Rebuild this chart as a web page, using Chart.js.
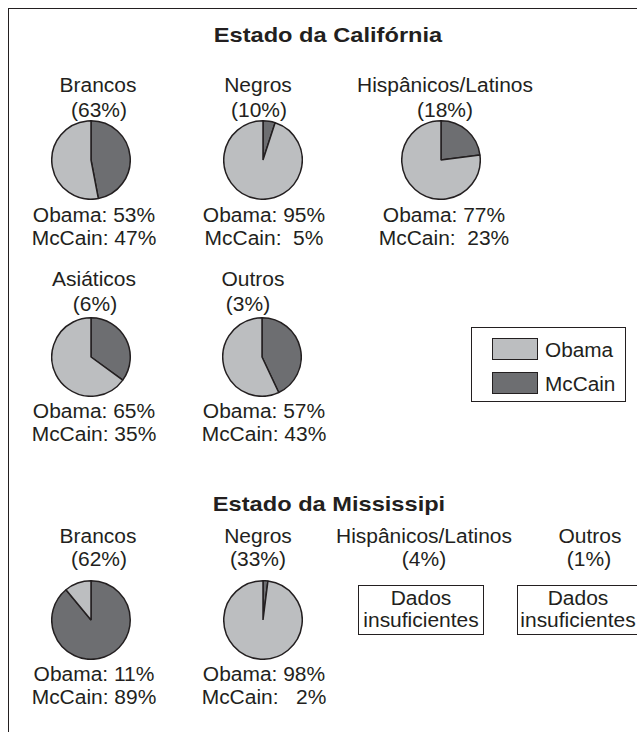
<!DOCTYPE html>
<html><head><meta charset="utf-8">
<script src="https://cdn.jsdelivr.net/npm/chart.js@4"></script>
<style>
html,body{margin:0;padding:0;background:#fff;}
#wrap{position:relative;width:637px;height:732px;overflow:hidden;background:#fff;}
.t{position:absolute;white-space:pre;font-family:"Liberation Sans",Arial,sans-serif;color:#231f20;}
.box{position:absolute;border:1.5px solid #231f20;box-sizing:border-box;}
.ln{position:absolute;background:#231f20;}
canvas.pie{position:absolute;}
</style></head><body><div id="wrap"></div>
<script>
// ---- data ----
const seriesLabels = ['Obama', 'McCain'];
const titles = ['Estado da Califórnia', 'Estado da Mississipi'];
const caGroups = ['Brancos', 'Negros', 'Hispânicos/Latinos', 'Asiáticos', 'Outros'];
const caShares = [63, 10, 18, 6, 3];
const caObama = [53, 95, 77, 65, 57];
const caMcCain = [47, 5, 23, 35, 43];
const msGroups = ['Brancos', 'Negros', 'Hispânicos/Latinos', 'Outros'];
const msShares = [62, 33, 4, 1];
const msObama = [11, 98, null, null];
const msMcCain = [89, 2, null, null];
const noDataText = ['Dados', 'insuficientes'];

// ---- styles / layout ----
const colObama = '#bcbec0', colMcCain = '#6d6e71', edge = '#231f20';
const caPad = [1, 2, 2, 1, 1];
const msPad = [1, 3];
const caLayout = [
  {px:91, py:160, lx:98, sx:99, vx:94, ly:93, sy:117.5, oy:223, my:246},
  {px:262.5, py:160, lx:258, sx:258.5, vx:264, ly:93, sy:117.5, oy:223, my:246},
  {px:440.5, py:160, lx:445, sx:445, vx:444, ly:93, sy:117.5, oy:223, my:246},
  {px:91, py:357, lx:94, sx:94.5, vx:94, ly:287, sy:311.5, oy:419, my:442},
  {px:262, py:357, lx:252.5, sx:248, vx:264, ly:287, sy:311.5, oy:419, my:442}
];
const msLayout = [
  {px:91, py:620, lx:98, sx:99, vx:94, ly:544, sy:567, oy:682, my:705},
  {px:262.5, py:620, lx:258, sx:258, vx:264, ly:544, sy:567, oy:682, my:705},
  {lx:424, sx:423.5, ly:543.5, sy:567, bx:358, bw:126, tx:421},
  {lx:589.5, sx:589, ly:543.5, sy:567, bx:517, bw:126, tx:578}
];

const wrap = document.getElementById('wrap');

function line(x, y, w, h) {
  const d = document.createElement('div'); d.className = 'ln';
  Object.assign(d.style, {left:x+'px', top:y+'px', width:w+'px', height:h+'px'});
  wrap.appendChild(d);
}
function txt(s, x, base, o = {}) {
  const size = o.size || 19.5, sx = o.sx || 1.075;
  const d = document.createElement('div'); d.className = 't'; d.textContent = s;
  d.style.fontSize = size + 'px'; d.style.lineHeight = size + 'px';
  d.style.fontWeight = o.bold ? 'bold' : 'normal';
  d.style.left = x + 'px'; d.style.top = (base - 0.8465 * size) + 'px';
  if (o.left) { d.style.transformOrigin = '0 50%'; d.style.transform = `scaleX(${sx})`; }
  else { d.style.transformOrigin = '50% 50%'; d.style.transform = `translateX(-50%) scaleX(${sx})`; }
  wrap.appendChild(d);
}
function box(x, y, w, h, bg) {
  const d = document.createElement('div'); d.className = 'box';
  Object.assign(d.style, {left:x+'px', top:y+'px', width:w+'px', height:h+'px'});
  if (bg) d.style.background = bg;
  wrap.appendChild(d);
}
function pie(cx, cy, mc, ob) {
  const c = document.createElement('canvas'); c.className = 'pie';
  c.width = 80; c.height = 80;
  Object.assign(c.style, {left:(cx-40)+'px', top:(cy-40)+'px', width:'80px', height:'80px'});
  wrap.appendChild(c);
  new Chart(c, {
    type: 'pie',
    data: { labels: [seriesLabels[1], seriesLabels[0]],
      datasets: [{ data: [mc, ob], backgroundColor: [colMcCain, colObama], borderColor: edge, borderWidth: 1.5 }] },
    options: { responsive: false, animation: false, events: [], layout: {padding: 0},
      plugins: { legend: {display: false}, tooltip: {enabled: false} } }
  });
}

// frame
line(8, 7.5, 640, 1.5);
line(7.5, 8, 1.5, 730);

// titles
txt(titles[0], 328, 42, {size:21, bold:true, sx:1.125});
txt(titles[1], 329, 511, {size:21, bold:true, sx:1.125});

// California
caGroups.forEach((g, i) => {
  const L = caLayout[i];
  txt(g, L.lx, L.ly);
  txt(`(${caShares[i]}%)`, L.sx, L.sy);
  pie(L.px, L.py, caMcCain[i], caObama[i]);
  txt(`${seriesLabels[0]}: ${caObama[i]}%`, L.vx, L.oy);
  txt(`${seriesLabels[1]}:${' '.repeat(caPad[i])}${caMcCain[i]}%`, L.vx, L.my);
});

// legend
box(471, 327, 155, 75);
box(492, 338, 46, 21.5, colObama);
box(492, 372, 46, 21.5, colMcCain);
txt(seriesLabels[0], 545, 358, {left:true, sx:1.065});
txt(seriesLabels[1], 545, 392, {left:true, sx:1.065});

// Mississippi
msGroups.forEach((g, i) => {
  const L = msLayout[i];
  txt(g, L.lx, L.ly);
  txt(`(${msShares[i]}%)`, L.sx, L.sy);
  if (msObama[i] !== null) {
    pie(L.px, L.py, msMcCain[i], msObama[i]);
    txt(`${seriesLabels[0]}: ${msObama[i]}%`, L.vx, L.oy);
    txt(`${seriesLabels[1]}:${' '.repeat(msPad[i])}${msMcCain[i]}%`, L.vx, L.my);
  } else {
    box(L.bx, 585, L.bw, 49.5);
    txt(noDataText[0], L.tx, 606);
    txt(noDataText[1], L.tx, 628);
  }
});
</script>
</body></html>
